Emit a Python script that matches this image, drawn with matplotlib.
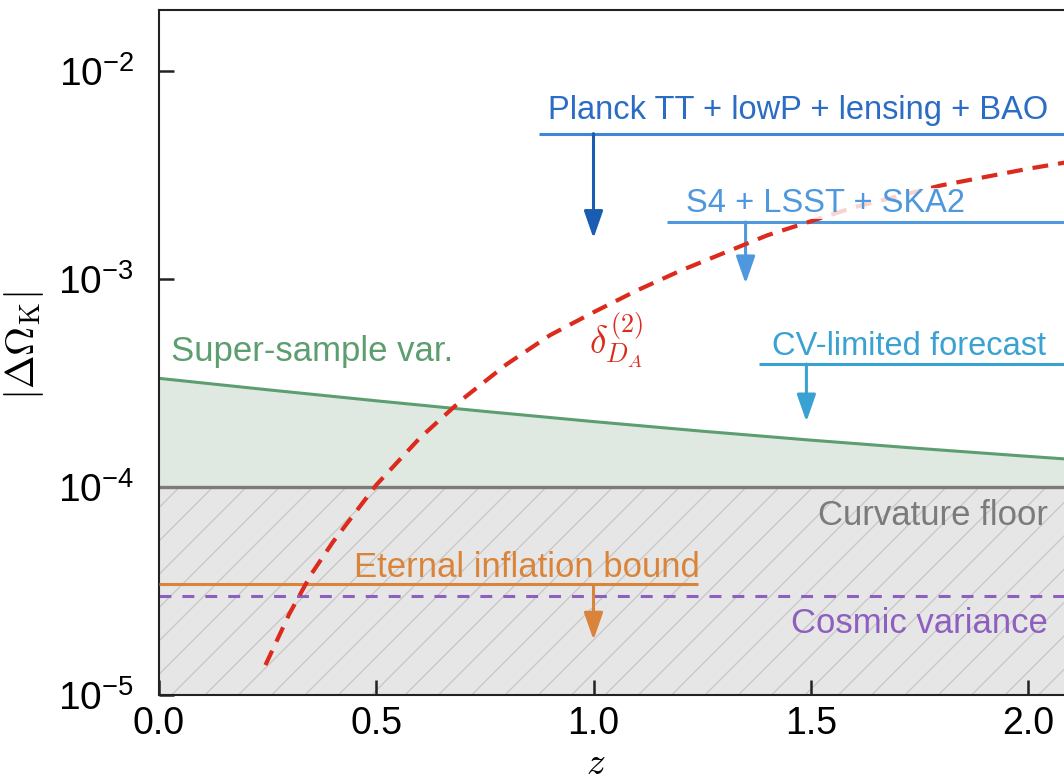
import numpy as np
import matplotlib
matplotlib.use('Agg')
import matplotlib.pyplot as plt
from matplotlib.ticker import FixedLocator, FixedFormatter, NullLocator

plt.rcParams['font.family'] = ['Liberation Sans', 'DejaVu Sans']
plt.rcParams['mathtext.fontset'] = 'cm'
plt.rcParams['hatch.linewidth'] = 0.9

# Super-sample variance curve
z_ss = [0.0, 0.25, 0.5, 0.75, 1.0, 1.25, 1.5, 1.75, 2.0, 2.2]
ss_var = [3.33e-4, 2.934e-4, 2.597e-4, 2.309e-4, 2.063e-4, 1.855e-4, 1.680e-4,
          1.532e-4, 1.404e-4, 1.313e-4]

# delta_DA^(2) curve
z_da = [0.245, 0.3, 0.35, 0.4, 0.5, 0.6, 0.7, 0.8, 0.9, 1.0, 1.1, 1.2,
        1.4, 1.6, 1.8, 2.0, 2.2]
delta_da = [1.393e-5, 2.455e-5, 3.80e-5, 5.43e-5, 1.023e-4, 1.718e-4, 2.66e-4,
            3.89e-4, 5.37e-4, 6.92e-4, 8.81e-4, 1.096e-3, 1.622e-3, 2.213e-3,
            2.818e-3, 3.388e-3, 3.981e-3]

# horizontal constraints: (label, level, z start, z end, arrow z, arrow tip)
planck = ('Planck TT + lowP + lensing + BAO', 5.0e-3, 0.875, 2.2, 1.0, 1.57e-3)
s4 = ('S4 + LSST + SKA2', 1.88e-3, 1.17, 2.2, 1.35, 9.5e-4)
cv = ('CV-limited forecast', 3.9e-4, 1.38, 2.2, 1.49, 2.06e-4)
eternal = ('Eternal inflation bound', 3.4e-5, 0.0, 1.24, 1.0, 1.84e-5)

curv_floor = 1e-4
cosmic_var = 3e-5

x_ticks = [0.0, 0.5, 1.0, 1.5, 2.0]
x_ticklabels = ['0.0', '0.5', '1.0', '1.5', '2.0']
y_ticks = [1e-5, 1e-4, 1e-3, 1e-2]
y_ticklabels = [r'$\mathregular{10^{-5}}$', r'$\mathregular{10^{-4}}$',
                r'$\mathregular{10^{-3}}$', r'$\mathregular{10^{-2}}$']

fig = plt.figure(figsize=(10.64, 7.83), dpi=100)
xmax = 2.2
ax = fig.add_axes([159 / 1064, 88 / 783, xmax * 434.5 / 1064, 685 / 783])
ax.set_yscale('log')
ax.set_xlim(0, xmax)
ax.set_ylim(1e-5, 10 ** (-5 + 685 / 208))

# shaded regions
ax.fill_between(z_ss, curv_floor, ss_var, color='#dfe9e1', lw=0, zorder=1)
ax.fill_between([0, xmax], 1e-5, curv_floor, facecolor='#e6e6e6', edgecolor='#c6c6c6',
                hatch='/', lw=0, zorder=1)
ax.plot(z_ss, ss_var, color='#5c9e70', lw=2.2, zorder=2)
ax.axhline(curv_floor, color='#7b7b7b', lw=2.4, zorder=2)
ax.axhline(cosmic_var, color='#8e5fbf', lw=2.2, ls=(0, (3.9, 3.6)), zorder=2)

# upper limit lines with arrows
def limit(spec, line_c, arrow_c):
    label, lev, z0, z1, za, tip = spec
    ax.plot([z0, z1], [lev, lev], color=line_c, lw=2.2, zorder=3, solid_capstyle='butt')
    ax.annotate('', xy=(za, tip), xytext=(za, lev),
                arrowprops=dict(arrowstyle='-|>,head_length=0.83,head_width=0.29',
                                color=arrow_c, lw=2.2, mutation_scale=20,
                                shrinkA=0, shrinkB=0), zorder=3)

limit(planck, '#3f86d6', '#1b5cb3')
limit(s4, '#4f98dd', '#4f98dd')
limit(cv, '#3aa2d2', '#3aa2d2')
limit(eternal, '#d9843a', '#d9843a')

ax.plot(z_da, delta_da, color='#dc2a1c', lw=3, ls=(0, (3.8, 2.4)), zorder=4)

fs = 23.5
fs2 = 25
ax.text(0.896, 5.87e-3, planck[0], color='#2b6cc4', fontsize=fs, va='baseline', zorder=5)
ax.text(1.212, 2.10e-3, s4[0], color='#4f98dd', fontsize=fs, va='baseline', zorder=5,
        bbox=dict(facecolor='white', alpha=0.8, edgecolor='none', pad=0))
ax.text(1.41, 4.31e-4, cv[0], color='#3aa2d2', fontsize=fs, va='baseline', zorder=5)
ax.text(0.028, 4.04e-4, 'Super-sample var.', color='#5c9e70', fontsize=fs2,
        va='baseline', zorder=5)
ax.text(2.046, 6.57e-5, 'Curvature floor', color='#7b7b7b', fontsize=fs2, va='baseline',
        ha='right', zorder=5)
ax.text(0.449, 3.69e-5, eternal[0], color='#d9843a', fontsize=fs2, va='baseline', zorder=5)
ax.text(2.046, 1.99e-5, 'Cosmic variance', color='#8e5fbf', fontsize=fs2, va='baseline',
        ha='right', zorder=5)
ax.text(0.99, 4.37e-4, r'$\delta^{(2)}_{D_A}$', color='#dc2a1c', fontsize=27,
        va='baseline', zorder=5)

# axes styling
for s in ax.spines.values():
    s.set_color('#222222')
    s.set_linewidth(1.5)
ax.xaxis.set_major_locator(FixedLocator(x_ticks))
ax.xaxis.set_major_formatter(FixedFormatter(x_ticklabels))
ax.yaxis.set_major_locator(FixedLocator(y_ticks))
ax.yaxis.set_major_formatter(FixedFormatter(y_ticklabels))
ax.yaxis.set_minor_locator(NullLocator())
ax.tick_params(which='major', direction='in', length=11, width=1.8, color='#222222',
               labelsize=27, top=False, right=True)
ax.tick_params(axis='x', pad=8)
ax.tick_params(axis='y', pad=18, labelsize=28)

ax.set_ylabel(r'$|\Delta\Omega_{\rm K}|$', fontsize=29)
ax.yaxis.set_label_coords(46 / 1064, 0.559, transform=fig.transFigure)
ax.set_xlabel(r'$z$', fontsize=27)
ax.xaxis.set_label_coords(596 / 1064, 0.047, transform=fig.transFigure)

fig.savefig('out.png', dpi=100)
